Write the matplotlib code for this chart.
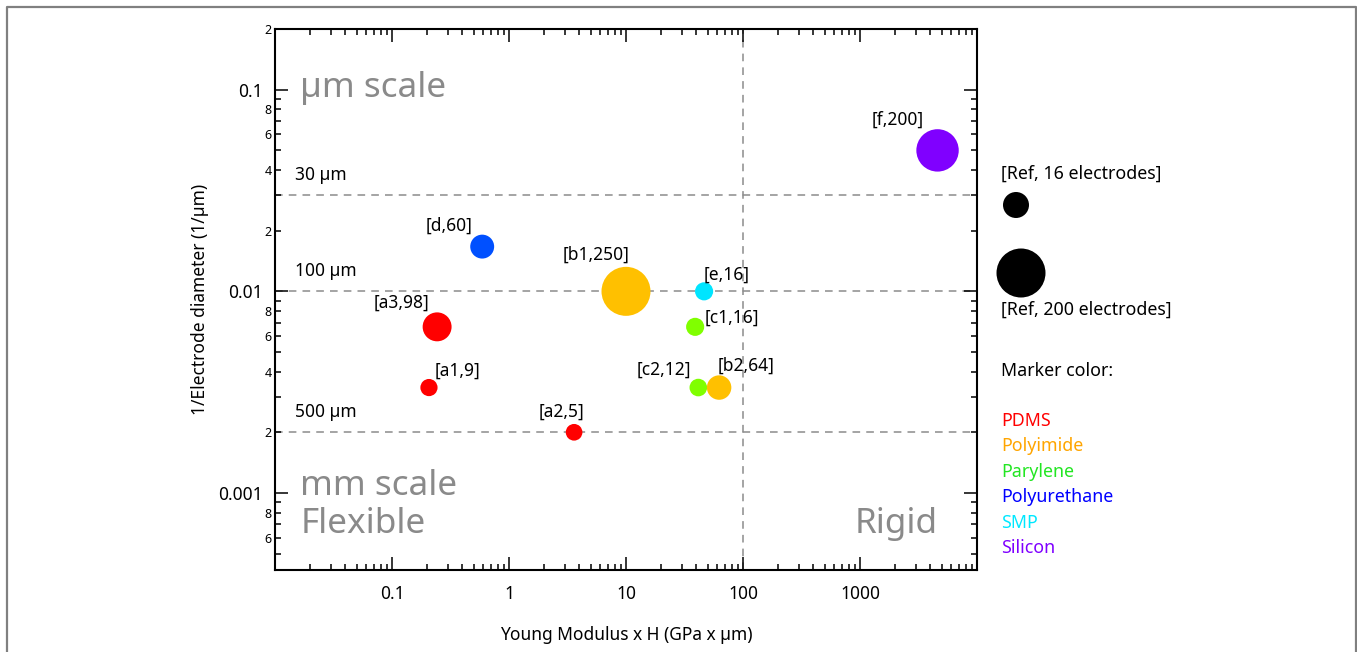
import matplotlib.pyplot as plt
import numpy as np
from matplotlib.ticker import FixedLocator, FuncFormatter

plt.rcParams['font.family'] = ['Noto Sans', 'DejaVu Sans']

#-------------------------------------------------------------------------------
# Values

ref_names = ["a3", "a1", "a2", "d", "b1", "e", "c1", "c2", "b2", "f"]
n_electrodes = [98, 9, 5, 60, 250, 16, 16, 12, 64, 200]
modulus_x_h = [0.243, 0.207, 3.6, 0.59, 10.0, 46.5, 39.0, 41.5, 62.5, 4600.0]
inv_diameter = [1/150, 1/300, 1/500, 1/60, 1/100, 1/100, 1/150, 1/300, 1/300, 1/20]
ref_material = ["PDMS", "PDMS", "PDMS", "Polyurethane", "Polyimide", "SMP",
                "Parylene", "Parylene", "Polyimide", "Silicon"]

material_names = ["PDMS", "Polyimide", "Parylene", "Polyurethane", "SMP", "Silicon"]

diam_lines = [0.03, 0.01, 0.002]
diam_labels = ["30 µm", "100 µm", "500 µm"]
rigid_limit = 100

#-------------------------------------------------------------------------------
# Styling

marker_colors = {"PDMS": "#ff0000", "Polyimide": "#ffc000", "Parylene": "#80ff00",
                 "Polyurethane": "#0050ff", "SMP": "#00e5ff", "Silicon": "#8000ff"}
text_colors = {"PDMS": "#ff0000", "Polyimide": "#ffa500", "Parylene": "#22e622",
               "Polyurethane": "#0000ff", "SMP": "#00e8ff", "Silicon": "#7f00ff"}
# label offsets (pixels) relative to the marker centre
label_offsets = {"a3": (-36, 24), "a1": (29, 17), "a2": (-13, 21), "d": (-33, 21),
                 "b1": (-30, 37), "e": (23, 17), "c1": (37, 9), "c2": (-34, 18),
                 "b2": (27, 22), "f": (-40, 31)}
region_gray = "#8a8a8a"
line_gray = "#8c8c8c"

W, H, DPI = 1357, 652, 100

def marker_area(n):
  """ Marker area (pt^2) from the electrode count, diameter grows linearly. """
  d_px = 16 + 0.132*np.asarray(n)
  return (d_px*72.0/DPI)**2

def minor_label(v, pos):
  m = int(round(v/10**np.floor(np.log10(v)+1e-9)))
  return str(m) if m in (2, 4, 6, 8) else ""

def minor_ticks(lo, hi):
  vals = [m*10.0**e for e in range(-5, 5) for m in range(2, 10)]
  return [v for v in vals if lo*0.999 <= v <= hi*1.001]

#-------------------------------------------------------------------------------

fig = plt.figure(figsize=(W/DPI, H/DPI), dpi=DPI)
ax = fig.add_axes([275/W, (H-570)/H, (977-275)/W, (570-29)/H])
ax.set_xscale("log")
ax.set_yscale("log")
xlim = (0.01, 10000)
ylim = (0.000415, 0.2)
ax.set_xlim(*xlim)
ax.set_ylim(*ylim)

# guide lines
for yv, lab in zip(diam_lines, diam_labels):
  ax.axhline(yv, color=line_gray, ls=(0, (5, 4)), lw=1.1, zorder=1)
  ax.annotate(lab, xy=(0.0285, yv), xycoords=ax.get_yaxis_transform(),
              xytext=(0, 20), textcoords="offset pixels",
              ha="left", va="center", fontsize=12.5)
ax.axvline(rigid_limit, color=line_gray, ls=(0, (5, 4)), lw=1.1, zorder=1)

# markers
colors = [marker_colors[m] for m in ref_material]
ax.scatter(modulus_x_h, inv_diameter, s=marker_area(n_electrodes), c=colors,
           edgecolors="none", zorder=3)
for name, n, x, y in zip(ref_names, n_electrodes, modulus_x_h, inv_diameter):
  ax.annotate("[{},{}]".format(name, n), xy=(x, y), xytext=label_offsets[name],
              textcoords="offset pixels", ha="center", va="center", fontsize=12.5)

# region labels
big = dict(transform=ax.transAxes, color=region_gray, fontsize=25.3, va="baseline")
ax.text(0.036, 0.874, "µm scale", ha="left", **big)
ax.text(0.036, 0.1386, "mm scale", ha="left", **big)
ax.text(0.036, 0.0684, "Flexible", ha="left", **big)
ax.text(0.944, 0.0684, "Rigid", ha="right", **big)

# ticks
ax.xaxis.set_major_locator(FixedLocator([0.1, 1, 10, 100, 1000]))
ax.xaxis.set_minor_locator(FixedLocator(minor_ticks(*xlim)))
ax.xaxis.set_major_formatter(FuncFormatter(lambda v, p: "%g" % v))
ax.xaxis.set_minor_formatter(FuncFormatter(lambda v, p: ""))
ax.yaxis.set_major_locator(FixedLocator([0.001, 0.01, 0.1]))
ax.yaxis.set_minor_locator(FixedLocator(minor_ticks(*ylim)))
ax.yaxis.set_major_formatter(FuncFormatter(lambda v, p: "%g" % v))
ax.yaxis.set_minor_formatter(FuncFormatter(minor_label))

ax.tick_params(which="both", direction="in", top=True, right=True, width=1.1)
ax.tick_params(which="major", length=9.5, labelsize=12.5)
ax.tick_params(which="minor", length=4.5, labelsize=9)
ax.tick_params(axis="x", which="major", pad=11)
ax.tick_params(axis="y", which="major", pad=9)
ax.tick_params(axis="y", which="minor", pad=2.5)
for sp in ax.spines.values():
  sp.set_linewidth(1.5)

ax.set_xlabel("Young Modulus x H (GPa x µm)", fontsize=12.5)
ax.set_ylabel("1/Electrode diameter (1/µm)", fontsize=12.5)
ax.xaxis.set_label_coords(0.5, -0.1035)
ax.yaxis.set_label_coords(-0.094, 0.5)

#-------------------------------------------------------------------------------
# legend and frame drawn in pixel coordinates

ov = fig.add_axes([0, 0, 1, 1])
ov.set_xlim(0, W)
ov.set_ylim(H, 0)
ov.axis("off")
ov.plot([7, 7, 1356, 1356], [H, 7, 7, H], color="#808080", lw=1.6)

ov.scatter([1016, 1021], [205, 273], s=[(26*0.72)**2, (49*0.72)**2],
           c="black", edgecolors="none")
ov.text(1001, 174, "[Ref, 16 electrodes]", ha="left", va="center", fontsize=12.8)
ov.text(1001, 310, "[Ref, 200 electrodes]", ha="left", va="center", fontsize=12.8)
ov.text(1001, 371, "Marker color:", ha="left", va="center", fontsize=12.8)
for i, mat in enumerate(material_names):
  ov.text(1001, 421 + 25.4*i, mat, ha="left", va="center", fontsize=12.8,
          color=text_colors[mat])

fig.savefig("out.png", dpi=DPI)
